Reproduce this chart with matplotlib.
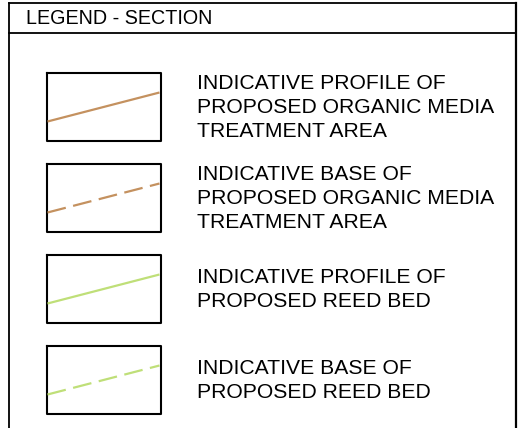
import matplotlib
matplotlib.use('Agg')
import matplotlib.pyplot as plt

plt.rcParams['font.family'] = ['Liberation Sans', 'DejaVu Sans']

title = 'LEGEND - SECTION'
labels = [
    'INDICATIVE PROFILE OF\nPROPOSED ORGANIC MEDIA\nTREATMENT AREA',
    'INDICATIVE BASE OF\nPROPOSED ORGANIC MEDIA\nTREATMENT AREA',
    'INDICATIVE PROFILE OF\nPROPOSED REED BED',
    'INDICATIVE BASE OF\nPROPOSED REED BED',
]
colors = ['#C4915F', '#C4915F', '#BFDF78', '#BFDF78']
styles = ['-', '--', '-', '--']

fig = plt.figure(figsize=(5.25, 4.28), dpi=100)
ax = fig.add_axes([0, 0, 1, 1])
ax.set_xlim(0, 525)
ax.set_ylim(428, 0)
ax.axis('off')

# outer frame and header
ax.plot([8.5, 8.5], [2.5, 440], color='black', lw=1.3)
ax.plot([515.5, 515.5], [2.5, 440], color='black', lw=1.6)
ax.plot([8.5, 515.5], [2.5, 2.5], color='black', lw=1.3)
ax.plot([8.5, 515.5], [32.5, 32.5], color='black', lw=1.3)
ax.text(26, 18, title, fontsize=14.2, va='center', ha='left')

x0, x1 = 46.5, 160.5
for i, (lab, c, ls) in enumerate(zip(labels, colors, styles)):
    top = 72.5 + i * 91
    bot = top + 68
    ax.plot([x0, x1, x1, x0, x0], [top, top, bot, bot, top], color='black', lw=1.5)
    ax.plot([x0 + 1, x1 - 1], [top + 49, top + 20], color=c, lw=1.6, ls=ls,
            dashes=(8.5, 3.4) if ls == '--' else (None, None), solid_capstyle='butt')
    ax.text(197, (top + bot) / 2 + 1, lab, fontsize=15.2, va='center', ha='left',
            linespacing=1.31)

fig.savefig('out.png', dpi=100)
